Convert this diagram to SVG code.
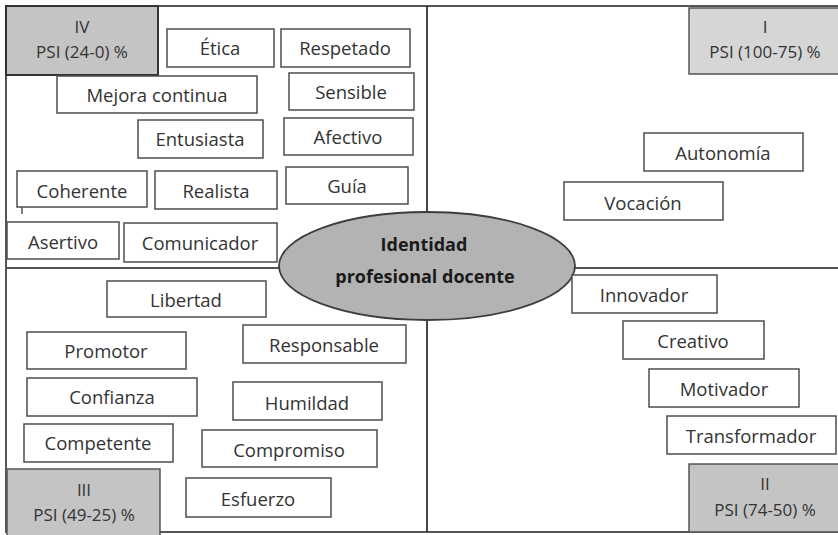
<svg xmlns="http://www.w3.org/2000/svg" width="838" height="535" viewBox="0 0 838 535">
<style>
.b{fill:#fff;stroke:#4d4d4d;stroke-width:1.5}
.t{font-family:"Open Sans","Liberation Sans",sans-serif;font-size:18.5px;fill:#333;text-anchor:middle}
.h{font-family:"Open Sans","Liberation Sans",sans-serif;font-size:17px;fill:#333;text-anchor:middle}
.c{font-family:"Open Sans","Liberation Sans",sans-serif;font-size:18px;font-weight:bold;fill:#1a1a1a;text-anchor:middle}
</style>
<rect width="838" height="535" fill="#fff"/>
<g id="frame">
<rect x="6" y="6" width="834" height="526" fill="none" stroke="#555" stroke-width="2"/>
<line x1="427" y1="6" x2="427" y2="532" stroke="#333" stroke-width="1.8"/>
<line x1="6" y1="268" x2="838" y2="268" stroke="#555" stroke-width="1.8"/>
<line x1="22" y1="207" x2="22" y2="214" stroke="#555" stroke-width="1.5"/>
</g>
<g id="q4"><rect x="6" y="6" width="152" height="69" fill="#c4c4c4" stroke="#333" stroke-width="2"/><text class="h" x="82" y="33">IV</text><text class="h" x="82" y="58">PSI (24-0) %</text></g>
<g id="q1"><rect x="689" y="8" width="152" height="66" fill="#d6d6d6" stroke="#555" stroke-width="1.5"/><text class="h" x="765" y="33">I</text><text class="h" x="765" y="58">PSI (100-75) %</text></g>
<g id="q3"><rect x="7" y="469" width="153" height="68" fill="#c4c4c4" stroke="#555" stroke-width="1.5"/><text class="h" x="84" y="496">III</text><text class="h" x="84" y="521">PSI (49-25) %</text></g>
<g id="q2"><rect x="689" y="464" width="152" height="68" fill="#c4c4c4" stroke="#555" stroke-width="1.5"/><text class="h" x="765" y="490">II</text><text class="h" x="765" y="516">PSI (74-50) %</text></g>
<g id="etica"><rect class="b" x="167" y="29" width="107" height="38"/><text class="t" x="220" y="55">Ética</text></g>
<g id="respetado"><rect class="b" x="281" y="29" width="129" height="38"/><text class="t" x="345" y="55">Respetado</text></g>
<g id="mejora"><rect class="b" x="57" y="76" width="200" height="37"/><text class="t" x="157" y="102">Mejora continua</text></g>
<g id="sensible"><rect class="b" x="289" y="73" width="125" height="37"/><text class="t" x="351" y="99">Sensible</text></g>
<g id="entusiasta"><rect class="b" x="138" y="120" width="125" height="38"/><text class="t" x="200" y="146">Entusiasta</text></g>
<g id="afectivo"><rect class="b" x="284" y="118" width="129" height="37"/><text class="t" x="348" y="144">Afectivo</text></g>
<g id="coherente"><rect class="b" x="17" y="171" width="130" height="36"/><text class="t" x="82" y="198">Coherente</text></g>
<g id="realista"><rect class="b" x="155" y="171" width="122" height="38"/><text class="t" x="216" y="198">Realista</text></g>
<g id="guia"><rect class="b" x="286" y="167" width="122" height="37"/><text class="t" x="347" y="193">Guía</text></g>
<g id="asertivo"><rect class="b" x="7" y="222" width="112" height="37"/><text class="t" x="63" y="249">Asertivo</text></g>
<g id="comunicador"><rect class="b" x="124" y="223" width="153" height="39"/><text class="t" x="200" y="250">Comunicador</text></g>
<g id="autonomia"><rect class="b" x="644" y="133" width="159" height="38"/><text class="t" x="723" y="160">Autonomía</text></g>
<g id="vocacion"><rect class="b" x="564" y="182" width="159" height="38"/><text class="t" x="643" y="210">Vocación</text></g>
<g id="centro"><ellipse cx="427" cy="266" rx="148" ry="54" fill="#b3b3b3" stroke="#3d3d3d" stroke-width="1.8"/><text class="c" x="424" y="251">Identidad</text><text class="c" x="425" y="283">profesional docente</text></g>
<g id="libertad"><rect class="b" x="107" y="281" width="159" height="36"/><text class="t" x="186" y="307">Libertad</text></g>
<g id="promotor"><rect class="b" x="27" y="332" width="159" height="37"/><text class="t" x="106" y="358">Promotor</text></g>
<g id="responsable"><rect class="b" x="243" y="325" width="163" height="38"/><text class="t" x="324" y="352">Responsable</text></g>
<g id="confianza"><rect class="b" x="27" y="378" width="170" height="38"/><text class="t" x="112" y="404">Confianza</text></g>
<g id="humildad"><rect class="b" x="233" y="382" width="149" height="38"/><text class="t" x="307" y="410">Humildad</text></g>
<g id="competente"><rect class="b" x="24" y="424" width="149" height="38"/><text class="t" x="98" y="450">Competente</text></g>
<g id="compromiso"><rect class="b" x="202" y="430" width="175" height="37"/><text class="t" x="289" y="457">Compromiso</text></g>
<g id="esfuerzo"><rect class="b" x="186" y="478" width="145" height="39"/><text class="t" x="258" y="506">Esfuerzo</text></g>
<g id="innovador"><rect class="b" x="572" y="275" width="145" height="38"/><text class="t" x="644" y="302">Innovador</text></g>
<g id="creativo"><rect class="b" x="623" y="321" width="141" height="38"/><text class="t" x="693" y="348">Creativo</text></g>
<g id="motivador"><rect class="b" x="649" y="369" width="150" height="38"/><text class="t" x="724" y="396">Motivador</text></g>
<g id="transformador"><rect class="b" x="667" y="416" width="169" height="38"/><text class="t" x="751" y="443">Transformador</text></g>
<g id="connectors"></g>
</svg>
